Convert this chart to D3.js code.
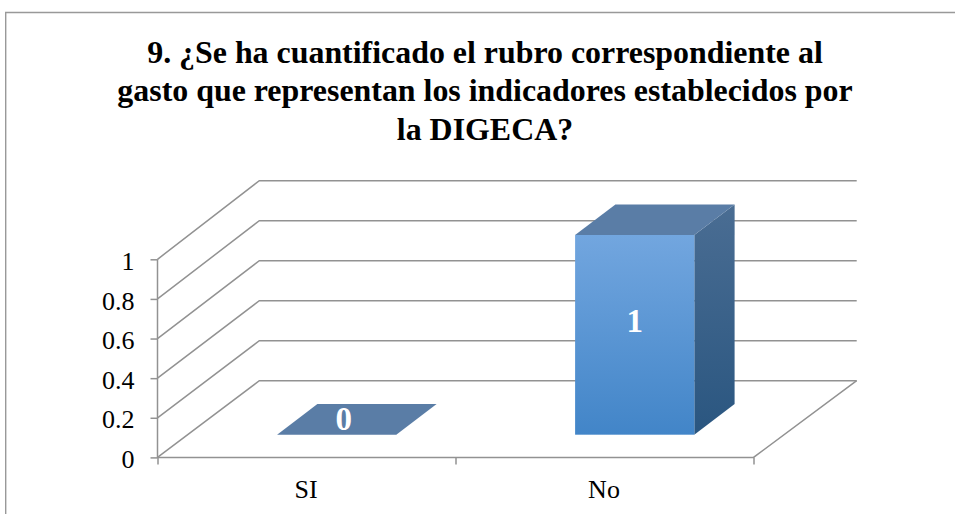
<!DOCTYPE html>
<html><head><meta charset="utf-8">
<script src="https://cdn.jsdelivr.net/npm/d3@7/dist/d3.min.js"></script>
<style>html,body{margin:0;padding:0;background:#fff;overflow:hidden}svg{display:block}</style>
</head><body><svg id="c" width="955" height="514"></svg>
<script>
const categories = ["SI", "No"];
const values = [0, 1];
const yTicks = [0, 0.2, 0.4, 0.6, 0.8, 1];
const titleLines = ["9. ¿Se ha cuantificado el rubro correspondiente al",
  "gasto que representan los indicadores establecidos por", "la DIGECA?"];

const FONT = "'Liberation Serif','Times New Roman',serif";
const svg = d3.select("#c");
const axisColor = "#929292";

const x = d3.scaleBand().domain(categories).range([157.5, 753.5]).paddingInner(0.6).paddingOuter(0.3);
const y = d3.scaleLinear().domain([0, 1]).range([457.4, 259.3]);      // front edge of the side wall
const yBack = d3.scaleLinear().domain([0, 1]).range([380.7, 180.7]);  // back wall
const yBar = d3.scaleLinear().domain([0, 1]).range([434.7, 235]);     // front face of the bars
const xBack = d3.scaleLinear().domain([157.5, 753.5]).range([259.3, 856.7]);
const barOffsetX = 30.2, barDepthX = 40.3, barDepthY = -30.6;

// frame
svg.append("path").attr("d", "M5.7,514V12.5H955").attr("fill", "none").attr("stroke", "#999").attr("stroke-width", 1.4);

// title
svg.append("g").selectAll("text").data(titleLines).join("text")
  .attr("x", 485).attr("y", (d, i) => [62.5, 101, 139.5][i])
  .attr("text-anchor", "middle").attr("font-family", FONT).attr("font-weight", "bold")
  .attr("font-size", 31.9).attr("fill", "#000").text(d => d);

// gridlines: side wall + back wall
const grid = svg.append("g").attr("fill", "none").attr("stroke", axisColor).attr("stroke-width", 1.5);
grid.selectAll("path").data(yTicks).join("path")
  .attr("d", d => `M157.5,${y(d)}L${xBack(157.5)},${yBack(d)}H${xBack(753.5)}`);
grid.append("path").attr("d", `M157.5,${y(1)}V${y(0)}H753.5L${xBack(753.5)},${yBack(0)}`);

// axes
const yAxis = svg.append("g").attr("transform", "translate(157.5,0)")
  .call(d3.axisLeft(y).tickValues(yTicks).tickSize(7).tickPadding(16).tickFormat(d3.format("~g")));
const xAxis = svg.append("g").attr("transform", `translate(0,${y(0)})`)
  .call(d3.axisBottom(d3.scalePoint().domain(d3.range(3)).range([157.5, 753.5])).tickSize(7).tickFormat(""));
[yAxis, xAxis].forEach(a => {
  a.select(".domain").remove();
  a.selectAll("line").attr("stroke", axisColor).attr("stroke-width", 1.5);
});
yAxis.selectAll("text").attr("font-family", FONT).attr("font-size", 26).attr("fill", "#000").attr("dy", 10.2);

// category labels
svg.append("g").selectAll("text").data(categories).join("text")
  .attr("x", d => x(d) + x.bandwidth() / 2 - 0.5)
  .attr("y", 498).attr("text-anchor", "middle").attr("font-family", FONT).attr("font-size", 26)
  .attr("fill", "#000").text(d => d);

// gradients
const defs = svg.append("defs");
function grad(id, a, b) {
  const g = defs.append("linearGradient").attr("id", id).attr("x1", 0).attr("y1", 0).attr("x2", 0).attr("y2", 1);
  g.append("stop").attr("offset", 0).attr("stop-color", a);
  g.append("stop").attr("offset", 1).attr("stop-color", b);
}
grad("front", "#72a6df", "#4285c8");
grad("side", "#4a6d93", "#2a5680");

// bars
const bars = svg.append("g").selectAll("g").data(categories.map((c, i) => ({c, v: values[i]}))).join("g");
bars.each(function(d) {
  const g = d3.select(this);
  const x0 = x(d.c) + barOffsetX, x1 = x0 + x.bandwidth();
  const yb = yBar(0), yt = yBar(d.v);
  if (d.v > 0) {
    g.append("path").attr("fill", "url(#side)")
      .attr("d", `M${x1},${yt}L${x1 + barDepthX},${yt + barDepthY}V${yb + barDepthY}L${x1},${yb}Z`);
    g.append("rect").attr("x", x0).attr("y", yt).attr("width", x1 - x0).attr("height", yb - yt).attr("fill", "url(#front)");
  }
  g.append("path").attr("fill", "#5a7da6")
    .attr("d", `M${x0},${yt}L${x0 + barDepthX},${yt + barDepthY}H${x1 + barDepthX}L${x1},${yt}Z`);
  const lx = d.v > 0 ? (x0 + x1) / 2 : (x0 + x1) / 2 + 7;
  const ly = d.v > 0 ? (yt + yb) / 2 - 3 : yt - 4.7;
  g.append("text").attr("x", lx).attr("y", ly).attr("text-anchor", "middle")
    .attr("font-family", FONT).attr("font-weight", "bold").attr("font-size", 33).attr("fill", "#fff").text(d.v);
});
</script></body></html>
